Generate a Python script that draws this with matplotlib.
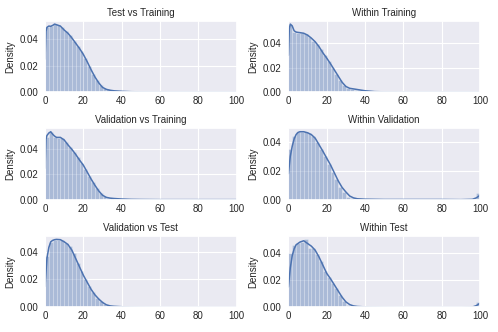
import matplotlib
matplotlib.use("Agg")
import matplotlib.pyplot as plt
import seaborn as sns
import numpy as np

sns.set_theme(style="darkgrid")
plt.rcParams['font.family'] = ['Liberation Sans', 'DejaVu Sans']

titles = ["Test vs Training", "Within Training",
          "Validation vs Training", "Within Validation",
          "Validation vs Test", "Within Test"]

bin_width = 2
bin_edges = list(range(0, 100, 2))  # left edges, 50 bins

# KDE sample positions
kde_x = [0, 0.5, 1, 2, 3, 4, 5, 6, 8, 10, 12, 14, 16, 18, 20, 22, 24, 26, 28, 30,
         32, 34, 36, 40, 45, 50, 60, 70, 80, 90, 96, 98, 100]

kde_test_train = [0.025, 0.046, 0.049, 0.050, 0.0498, 0.0505, 0.0515, 0.051, 0.050, 0.047,
                  0.0445, 0.041, 0.037, 0.033, 0.0285, 0.023, 0.017, 0.0115, 0.007, 0.0035,
                  0.002, 0.0013, 0.0009, 0.0005, 0.0002, 0.0001, 0, 0, 0, 0, 0, 0, 0]
kde_within_train = [0.03, 0.052, 0.0555, 0.054, 0.050, 0.049, 0.0487, 0.0485, 0.048, 0.0465,
                    0.044, 0.041, 0.037, 0.032, 0.0277, 0.023, 0.018, 0.013, 0.008, 0.0045,
                    0.003, 0.0025, 0.002, 0.001, 0.0003, 0.0001, 0, 0, 0, 0, 0, 0, 0]
kde_val_train = [0.025, 0.048, 0.051, 0.053, 0.054, 0.052, 0.0505, 0.0495, 0.0495, 0.0475,
                 0.0435, 0.040, 0.036, 0.0315, 0.0274, 0.022, 0.0165, 0.0115, 0.007, 0.0035,
                 0.0018, 0.0012, 0.0009, 0.0005, 0.0002, 0.0001, 0, 0, 0, 0, 0, 0, 0]
kde_within_val = [0.018, 0.024, 0.030, 0.037, 0.042, 0.045, 0.0465, 0.047, 0.047, 0.0463,
                  0.045, 0.0425, 0.038, 0.0335, 0.0287, 0.024, 0.0185, 0.013, 0.0085, 0.0053,
                  0.0025, 0.0012, 0.0006, 0.0003, 0.0002, 0.0001, 0.0001, 0.0001, 0.0001, 0.0,
                  0.0002, 0.0012, 0.003]
kde_val_test = [0.015, 0.025, 0.035, 0.043, 0.047, 0.048, 0.0485, 0.0487, 0.0485, 0.047,
                0.045, 0.041, 0.035, 0.029, 0.023, 0.018, 0.013, 0.009, 0.006, 0.0035,
                0.0018, 0.001, 0.0007, 0.0004, 0.0002, 0.0001, 0, 0, 0, 0, 0, 0, 0]
kde_within_test = [0.015, 0.022, 0.029, 0.038, 0.043, 0.046, 0.047, 0.048, 0.049, 0.047,
                   0.045, 0.042, 0.037, 0.031, 0.025, 0.021, 0.0165, 0.012, 0.0075, 0.004,
                   0.002, 0.001, 0.0006, 0.0003, 0.0002, 0.0001, 0, 0, 0, 0,
                   0.0002, 0.0012, 0.003]

hist_test_train = [0.049, 0.050, 0.0515, 0.051, 0.049, 0.046, 0.043, 0.039, 0.035, 0.031,
                   0.026, 0.020, 0.014, 0.009, 0.0055, 0.003, 0.002, 0.0014, 0.001, 0.0007,
                   0.0005, 0.0003, 0.0002, 0.0001, 0.0001,
                   0, 0, 0, 0, 0, 0, 0, 0, 0, 0, 0, 0, 0, 0, 0, 0, 0, 0, 0, 0, 0, 0, 0, 0, 0]
hist_within_train = [0.055, 0.049, 0.048, 0.048, 0.047, 0.045, 0.042, 0.039, 0.035, 0.030,
                     0.025, 0.020, 0.015, 0.010, 0.006, 0.0035, 0.0025, 0.002, 0.0015, 0.001,
                     0.0006, 0.0004, 0.0002, 0.0001, 0.0001,
                     0, 0, 0, 0, 0, 0, 0, 0, 0, 0, 0, 0, 0, 0, 0, 0, 0, 0, 0, 0, 0, 0, 0, 0, 0]
hist_val_train = [0.050, 0.054, 0.050, 0.049, 0.049, 0.046, 0.042, 0.038, 0.034, 0.029,
                  0.024, 0.019, 0.014, 0.009, 0.005, 0.0025, 0.0015, 0.001, 0.0008, 0.0006,
                  0.0004, 0.0003, 0.0002, 0.0002, 0.0001,
                  0, 0, 0, 0, 0, 0, 0, 0, 0, 0, 0, 0, 0, 0, 0, 0, 0, 0, 0, 0, 0, 0, 0, 0, 0]
hist_within_val = [0.035, 0.044, 0.047, 0.047, 0.047, 0.046, 0.044, 0.040, 0.035, 0.030,
                   0.025, 0.019, 0.014, 0.009, 0.005, 0.002, 0.001, 0.0005, 0.0003, 0.0002,
                   0.0002, 0.0002, 0.0001, 0.0001, 0.0001, 0.0001, 0.0001, 0.0001, 0.0001, 0.0002,
                   0.0002, 0.0001, 0, 0, 0.0002, 0.0002, 0.0002, 0.0002, 0.0002, 0.0002,
                   0, 0, 0, 0, 0, 0, 0, 0, 0.0002, 0.0045]
hist_val_test = [0.037, 0.047, 0.048, 0.048, 0.048, 0.046, 0.044, 0.039, 0.032, 0.026,
                 0.020, 0.015, 0.011, 0.007, 0.0045, 0.0025, 0.0013, 0.0008, 0.0005, 0.0003,
                 0.0002, 0.0001, 0.0001, 0.0001, 0.0001,
                 0, 0, 0, 0, 0.0001, 0, 0, 0, 0, 0, 0, 0, 0, 0, 0, 0, 0, 0, 0, 0, 0, 0, 0, 0, 0]
hist_within_test = [0.040, 0.046, 0.047, 0.048, 0.050, 0.044, 0.044, 0.039, 0.034, 0.027,
                    0.022, 0.018, 0.014, 0.009, 0.005, 0.002, 0.001, 0.0005, 0.0003, 0.0002,
                    0.0001, 0.0001, 0.0001, 0.0001, 0.0001,
                    0, 0, 0, 0, 0, 0, 0, 0, 0, 0, 0, 0, 0, 0, 0, 0, 0, 0, 0, 0, 0, 0, 0, 0.0002, 0.004]

hists = [hist_test_train, hist_within_train, hist_val_train,
         hist_within_val, hist_val_test, hist_within_test]
kdes = [kde_test_train, kde_within_train, kde_val_train,
        kde_within_val, kde_val_test, kde_within_test]

color = "#4c72b0"
fig, axes = plt.subplots(3, 2, figsize=(4.98, 3.32), dpi=100)
fig.subplots_adjust(left=0.0904, right=0.9639, top=0.9377, bottom=0.0744,
                    wspace=0.27, hspace=0.51)

for ax, title, h, k in zip(axes.flat, titles, hists, kdes):
    ax.bar(bin_edges, h, width=bin_width, align='edge', color=color, alpha=0.4,
           edgecolor='white', linewidth=0.4)
    ax.plot(kde_x, k, color=color, linewidth=1.1)
    ax.set_xlim(0, 100)
    ax.set_ylim(bottom=0)
    ax.set_xticks([0, 20, 40, 60, 80, 100])
    ax.set_yticks([0.0, 0.02, 0.04])
    ax.set_yticklabels(["0.00", "0.02", "0.04"])
    ax.set_title(title, fontsize=7, pad=3.5)
    ax.set_ylabel("Density", fontsize=7, labelpad=3)
    ax.tick_params(axis='x', labelsize=7, length=0, pad=3)
    ax.tick_params(axis='y', labelsize=7, length=0, pad=5)
    ax.grid(True, color='white', linewidth=0.8)

fig.savefig("out.png", dpi=100)
